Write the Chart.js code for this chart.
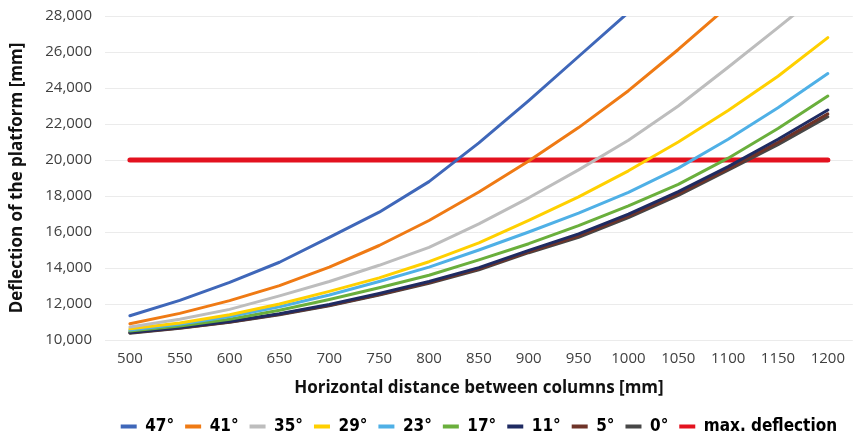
<!DOCTYPE html>
<html>
<head>
<meta charset="utf-8">
<script src="https://cdn.jsdelivr.net/npm/chart.js@4.4.1/dist/chart.umd.min.js"></script>
<style>
  html, body { margin: 0; padding: 0; background: #ffffff; }
  canvas { display: block; }
</style>
</head>
<body>
<canvas id="chart" width="855" height="439"></canvas>
<script>
// Horizontal distance between columns [mm]
const distances = ['500', '550', '600', '650', '700', '750', '800', '850', '900', '950', '1000', '1050', '1100', '1150', '1200'];

// Deflection of the platform [mm] for each inclination angle
const deflection47 = [11350, 12200, 13200, 14320, 15700, 17100, 18800, 20950, 23300, 25750, 28200, null, null, null, null];
const deflection41 = [10900, 11480, 12190, 13020, 14050, 15250, 16640, 18220, 19950, 21800, 23850, 26140, 28550, null, null];
const deflection35 = [10720, 11150, 11700, 12450, 13250, 14150, 15150, 16450, 17900, 19450, 21100, 23000, 25150, 27350, 29600];
const deflection29 = [10620, 10950, 11400, 12000, 12700, 13450, 14350, 15400, 16650, 17950, 19400, 21000, 22750, 24650, 26800];
const deflection23 = [10560, 10880, 11300, 11850, 12500, 13250, 14050, 15000, 16000, 17050, 18200, 19550, 21150, 22900, 24800];
const deflection17 = [10500, 10780, 11150, 11650, 12250, 12900, 13600, 14450, 15350, 16350, 17450, 18650, 20100, 21750, 23550];
const deflection11 = [10420, 10690, 11030, 11460, 11970, 12580, 13250, 14020, 14980, 15900, 16990, 18240, 19630, 21150, 22780];
const deflection5  = [10400, 10665, 11000, 11425, 11930, 12530, 13190, 13950, 14900, 15780, 16880, 18120, 19510, 20980, 22560];
const deflection0  = [10380, 10650, 10980, 11400, 11900, 12500, 13150, 13900, 14850, 15700, 16800, 18030, 19430, 20850, 22400];
const maxDeflection = [20000, 20000, 20000, 20000, 20000, 20000, 20000, 20000, 20000, 20000, 20000, 20000, 20000, 20000, 20000];

const seriesNames = ['47°', '41°', '35°', '29°', '23°', '17°', '11°', '5°', '0°', 'max. deflection'];
const seriesValues = [deflection47, deflection41, deflection35, deflection29, deflection23,
                      deflection17, deflection11, deflection5, deflection0, maxDeflection];
const seriesColors = ['#3f67b9', '#ef7a14', '#bdbdbd', '#ffd000', '#4fb0e6',
                      '#6aaf3c', '#1f2b62', '#6e3328', '#474747', '#e3121f'];
const seriesWidths = [3, 3, 3, 3, 3, 3, 3, 3, 3, 5];

const datasets = seriesNames.map((name, i) => ({
  label: name,
  data: seriesValues[i],
  borderColor: seriesColors[i],
  backgroundColor: seriesColors[i],
  borderWidth: seriesWidths[i],
  borderCapStyle: 'round',
  borderJoinStyle: 'round',
  pointRadius: 0,
  pointHoverRadius: 0,
  tension: 0,
  fill: false,
  clip: 0
}));

// Center the legend row under the plot area rather than the whole canvas
const legendUnderPlot = {
  id: 'legendUnderPlot',
  afterLayout(chart) {
    if (chart.legend) {
      chart.legend.left = chart.chartArea.left;
      chart.legend.right = chart.chartArea.right;
    }
  }
};

new Chart(document.getElementById('chart'), {
  type: 'line',
  data: { labels: distances, datasets: datasets },
  plugins: [legendUnderPlot],
  options: {
    responsive: false,
    animation: false,
    events: [],
    layout: { padding: { top: 16, left: 2, right: 0, bottom: -6 } },
    plugins: {
      tooltip: { enabled: false },
      legend: {
        position: 'bottom',
        align: 'center',
        labels: {
          boxWidth: 16,
          boxHeight: 4,
          padding: 11,
          color: '#111111',
          font: { family: "'Liberation Sans Narrow', 'DejaVu Sans Condensed', sans-serif", size: 17, weight: 'bold' },
          generateLabels: (chart) => chart.data.datasets.map((ds, i) => ({
            text: ds.label,
            fillStyle: ds.borderColor,
            strokeStyle: ds.borderColor,
            lineWidth: 0,
            hidden: false,
            datasetIndex: i
          }))
        }
      }
    },
    scales: {
      x: {
        offset: true,
        grid: { display: false, drawTicks: false },
        border: { display: false },
        ticks: {
          padding: 10,
          color: '#404040',
          font: { family: "'Open Sans', sans-serif", size: 15 },
          maxRotation: 0,
          autoSkip: false
        },
        title: {
          display: true,
          text: 'Horizontal distance between columns [mm]',
          color: '#111111',
          font: { family: "'Open Sans', sans-serif", size: 17, weight: 'bold' },
          padding: { top: 2, bottom: 9 }
        },
        afterFit: (scale) => { scale.height = 67; }
      },
      y: {
        min: 10000,
        max: 28000,
        grid: { color: '#ebebeb', lineWidth: 1, drawTicks: false },
        border: { display: false },
        ticks: {
          stepSize: 2000,
          padding: 13,
          color: '#404040',
          font: { family: "'Open Sans', sans-serif", size: 15 },
          callback: (v) => v.toLocaleString('en-US')
        },
        title: {
          display: true,
          text: 'Deflection of the platform [mm]',
          color: '#111111',
          font: { family: "'Open Sans', sans-serif", size: 17, weight: 'bold' },
          padding: { top: 5, bottom: 0 }
        },
        afterFit: (scale) => { scale.width = 103; scale.paddingTop = 0; }
      }
    }
  }
});
</script>
</body>
</html>
